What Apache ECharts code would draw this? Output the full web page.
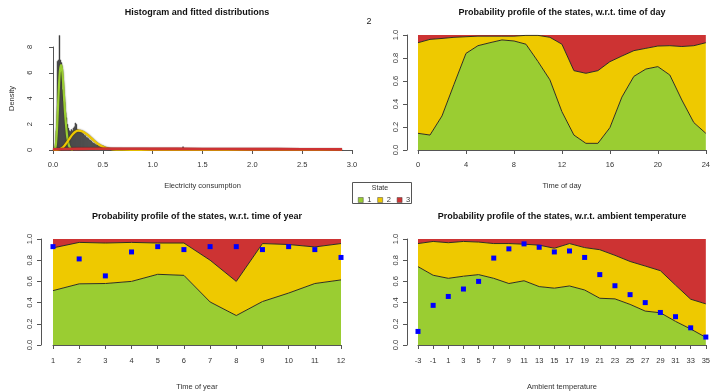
<!DOCTYPE html>
<html>
<head>
<meta charset="utf-8">
<script src="https://cdn.jsdelivr.net/npm/echarts@6/dist/echarts.min.js"></script>
<style>
  html, body { margin: 0; padding: 0; background: #ffffff; }
  #chart { width: 713px; height: 392px; }
</style>
</head>
<body>
<div id="chart"></div>
<script>
// ---- Histogram of electricity consumption (density, bin width 0.01 from 0) ----
const binWidth = 0.01;
const histHeights = [
  0, 0, 0.3, 1.5, 6.9, 7.0, 8.9, 7.0, 6.8, 4.7,
  3.8, 3.7, 2.9, 2.5, 2.0, 1.7, 1.5, 1.45, 1.6, 1.5,
  1.7, 1.8, 2.1, 2.0, 1.6, 1.55, 1.5, 1.45, 1.4, 1.3,
  1.25, 1.15, 1.1, 1.0, 0.95, 0.9, 0.8, 0.75, 0.7, 0.6,
  0.55, 0.5, 0.45, 0.4, 0.38, 0.33, 0.3, 0.28, 0.25, 0.3,
  0.32, 0.25, 0.2, 0.18, 0.15, 0.13, 0.12, 0.11, 0.1, 0.1,
  0.09, 0.09, 0.08, 0.08, 0.08, 0.07, 0.07, 0.07, 0.06, 0.06
];
// isolated bins further out in the tail: [bin start, density]
const histTailBins = [[1.30, 0.25]];

// ---- Fitted component densities (sampled along x) ----
const fit1X = [0.02, 0.03, 0.04, 0.05, 0.06, 0.07, 0.08, 0.09, 0.10, 0.11, 0.12, 0.13, 0.14, 0.15, 0.16, 0.18, 0.20];
const fit1Y = [0, 0.5, 1.6, 3.3, 5.0, 6.2, 6.6, 6.3, 5.4, 4.2, 3.0, 2.0, 1.2, 0.7, 0.35, 0.08, 0];
const fit2X = [0, 0.05, 0.10, 0.15, 0.20, 0.25, 0.30, 0.35, 0.40, 0.45, 0.50, 0.55, 0.60, 0.70, 0.80, 1.0, 2.9];
const fit2Y = [0, 0.02, 0.2, 0.7, 1.25, 1.5, 1.42, 1.15, 0.8, 0.48, 0.25, 0.12, 0.05, 0.02, 0.01, 0, 0];
const fit3X = [0, 0.25, 0.5, 0.75, 1.0, 1.5, 2.0, 2.5, 2.9];
const fit3Y = [0.06, 0.09, 0.1, 0.1, 0.09, 0.08, 0.07, 0.06, 0.05];

// ---- Time of day: cumulative probability of state 1 and states 1+2 ----
const hours = ['0','1','2','3','4','5','6','7','8','9','10','11','12','13','14','15','16','17','18','19','20','21','22','23','24'];
const dayCum1 = [0.145, 0.13, 0.296, 0.57, 0.84, 0.907, 0.933, 0.957, 0.948, 0.92, 0.77, 0.61, 0.333, 0.13, 0.058, 0.058, 0.194, 0.46, 0.64, 0.704, 0.725, 0.652, 0.435, 0.238, 0.145];
const dayCum2 = [0.933, 0.962, 0.97, 0.98, 0.985, 0.99, 0.99, 0.99, 0.99, 0.997, 0.997, 0.98, 0.92, 0.69, 0.667, 0.69, 0.768, 0.817, 0.864, 0.884, 0.904, 0.907, 0.90, 0.907, 0.933];

// ---- Time of year ----
const months = ['1','2','3','4','5','6','7','8','9','10','11','12'];
const yearCum1 = [0.513, 0.577, 0.58, 0.60, 0.667, 0.657, 0.406, 0.278, 0.41, 0.49, 0.58, 0.614];
const yearCum2 = [0.916, 0.968, 0.962, 0.968, 0.962, 0.962, 0.80, 0.60, 0.957, 0.948, 0.925, 0.957];
const yearObs  = [0.928, 0.812, 0.652, 0.878, 0.928, 0.90, 0.928, 0.928, 0.90, 0.928, 0.90, 0.826];

// ---- Ambient temperature ----
const temps = ['-3','-1','1','3','5','7','9','11','13','15','17','19','21','23','25','27','29','31','33','35'];
const tempCum1 = [0.739, 0.658, 0.629, 0.649, 0.664, 0.629, 0.58, 0.606, 0.551, 0.536, 0.557, 0.519, 0.441, 0.435, 0.383, 0.32, 0.304, 0.223, 0.151, 0.072];
const tempCum2 = [0.957, 0.977, 0.965, 0.977, 0.971, 0.957, 0.957, 0.951, 0.942, 0.913, 0.957, 0.919, 0.899, 0.846, 0.788, 0.745, 0.701, 0.565, 0.432, 0.388];
const tempObs  = [0.128, 0.374, 0.458, 0.528, 0.60, 0.82, 0.907, 0.954, 0.922, 0.878, 0.887, 0.826, 0.664, 0.559, 0.475, 0.40, 0.307, 0.267, 0.162, 0.075];

const stateNames = ['1', '2', '3'];

// ---- styling ----
const FONT = 'Liberation Sans, Arial, Helvetica, sans-serif';
const GREEN = '#9ACD32';
const YELLOW = '#EEC900';
const RED = '#CD3333';
const BLUE = '#0000FF';
const AXIS_COLOR = '#555555';
const LABEL_COLOR = '#333333';
const EDGE = '#2f2f1f';

const chart = echarts.init(document.getElementById('chart'), null, { renderer: 'canvas' });

const zip = (xs, ys) => xs.map((x, i) => [x, ys[i]]);

function xAxisStyle(extra) {
  return Object.assign({
    axisLine: { show: true, lineStyle: { color: AXIS_COLOR, width: 1 } },
    axisTick: { show: true, length: 4, lineStyle: { color: AXIS_COLOR } },
    axisLabel: { fontSize: 7.5, color: LABEL_COLOR, fontFamily: FONT, margin: 7 },
    splitLine: { show: false },
    nameLocation: 'middle',
    nameTextStyle: { fontSize: 7.5, color: LABEL_COLOR, fontFamily: FONT }
  }, extra);
}

function yAxisStyle(extra) {
  return Object.assign({
    type: 'value',
    axisLine: { show: true, lineStyle: { color: AXIS_COLOR, width: 1 } },
    axisTick: { show: true, length: 4, lineStyle: { color: AXIS_COLOR } },
    axisLabel: { fontSize: 7.5, color: LABEL_COLOR, fontFamily: FONT, rotate: 90, margin: 7 },
    splitLine: { show: false }
  }, extra);
}

const probLabel = { formatter: v => v.toFixed(1) };

// three stacked bands (state 1, 2, 3) from the cumulative boundaries
function stateBands(axisIdx, cum1, cum2) {
  const p1 = cum1;
  const p2 = cum2.map((v, i) => v - cum1[i]);
  const p3 = cum2.map(v => 1 - v);
  const colors = [GREEN, YELLOW, RED];
  return [p1, p2, p3].map((vals, k) => ({
    type: 'line',
    name: stateNames[k],
    xAxisIndex: axisIdx,
    yAxisIndex: axisIdx,
    stack: 'states' + axisIdx,
    data: vals,
    symbol: 'none',
    color: colors[k],
    lineStyle: k < 2 ? { color: EDGE, width: 1 } : { width: 0 },
    areaStyle: { color: colors[k], opacity: 1 },
    z: 2
  }));
}

const histData = histHeights.map((h, i) => [i * binWidth, h]).concat(histTailBins);

const option = {
  animation: false,
  backgroundColor: '#ffffff',
  textStyle: { fontFamily: FONT },
  title: [
    { text: 'Histogram and fitted distributions', left: 197, top: 8 },
    { text: 'Probability profile of the states, w.r.t. time of day', left: 562, top: 8 },
    { text: 'Probability profile of the states, w.r.t. time of year', left: 197, top: 212 },
    { text: 'Probability profile of the states, w.r.t. ambient temperature', left: 562, top: 212 }
  ].map(t => Object.assign(t, {
    textAlign: 'center',
    padding: 0,
    textStyle: { fontSize: 9, fontWeight: 'bold', color: '#111111', fontFamily: FONT }
  })),
  grid: [
    { left: 53, top: 47, width: 299, height: 103 },
    { left: 418, top: 35, width: 288, height: 115 },
    { left: 53, top: 239, width: 288, height: 115 },
    { left: 418, top: 239, width: 288, height: 115 }
  ],
  xAxis: [
    xAxisStyle({
      type: 'value', gridIndex: 0, min: 0, max: 3, interval: 0.5, offset: 4,
      axisLabel: { fontSize: 7.5, color: LABEL_COLOR, fontFamily: FONT, margin: 7, formatter: v => v.toFixed(1) },
      name: 'Electricity consumption', nameGap: 28
    }),
    xAxisStyle({
      type: 'category', gridIndex: 1, data: hours, boundaryGap: false, offset: 4,
      axisTick: { show: true, length: 4, interval: 3, lineStyle: { color: AXIS_COLOR } },
      axisLabel: { fontSize: 7.5, color: LABEL_COLOR, fontFamily: FONT, margin: 7, interval: 3 },
      name: 'Time of day', nameGap: 28
    }),
    xAxisStyle({
      type: 'category', gridIndex: 2, data: months, boundaryGap: false, offset: 5,
      name: 'Time of year', nameGap: 33
    }),
    xAxisStyle({
      type: 'category', gridIndex: 3, data: temps, boundaryGap: false, offset: 5,
      axisLabel: { fontSize: 7.5, color: LABEL_COLOR, fontFamily: FONT, margin: 7, interval: 0 },
      name: 'Ambient temperature', nameGap: 33
    })
  ],
  yAxis: [
    yAxisStyle({
      gridIndex: 0, min: 0, max: 8, interval: 2, offset: 12,
      name: 'Density', nameLocation: 'middle', nameGap: 25, nameRotate: 90,
      nameTextStyle: { fontSize: 7.5, color: LABEL_COLOR, fontFamily: FONT }
    }),
    yAxisStyle({ gridIndex: 1, min: 0, max: 1, interval: 0.2, offset: 11,
      axisLabel: Object.assign({ fontSize: 7.5, color: LABEL_COLOR, fontFamily: FONT, rotate: 90, margin: 7 }, probLabel) }),
    yAxisStyle({ gridIndex: 2, min: 0, max: 1, interval: 0.2, offset: 12,
      axisLabel: Object.assign({ fontSize: 7.5, color: LABEL_COLOR, fontFamily: FONT, rotate: 90, margin: 7 }, probLabel) }),
    yAxisStyle({ gridIndex: 3, min: 0, max: 1, interval: 0.2, offset: 11,
      axisLabel: Object.assign({ fontSize: 7.5, color: LABEL_COLOR, fontFamily: FONT, rotate: 90, margin: 7 }, probLabel) })
  ],
  legend: {
    data: stateNames.map((n, k) => ({ name: n, itemStyle: { color: [GREEN, YELLOW, RED][k], borderColor: '#444', borderWidth: 0.5 } })),
    icon: 'rect',
    left: 358,
    top: 196,
    itemWidth: 5,
    itemHeight: 5,
    itemGap: 6,
    padding: 0,
    selectedMode: false,
    textStyle: { fontSize: 7.5, color: LABEL_COLOR, fontFamily: FONT, padding: [0, 0, 0, -1] }
  },
  graphic: [
    {
      type: 'rect', z: 10,
      shape: { x: 352.5, y: 182.5, width: 59, height: 21 },
      style: { fill: 'none', stroke: '#555555', lineWidth: 1 }
    },
    {
      type: 'text', z: 10, x: 380, y: 188,
      style: { text: 'State', fontSize: 7, fill: LABEL_COLOR, fontFamily: FONT, align: 'center', verticalAlign: 'middle' }
    },
    {
      type: 'text', z: 10, x: 369, y: 22,
      style: { text: '2', fontSize: 9, fill: '#222222', fontFamily: FONT, align: 'center', verticalAlign: 'middle' }
    }
  ],
  series: [
    {
      type: 'custom',
      name: 'histogram',
      xAxisIndex: 0,
      yAxisIndex: 0,
      clip: false,
      data: histData,
      z: 2,
      renderItem: function (params, api) {
        const x0 = api.value(0);
        const h = api.value(1);
        if (h <= 0) return null;
        const p0 = api.coord([x0, 0]);
        const p1 = api.coord([x0 + binWidth, h]);
        return {
          type: 'rect',
          shape: { x: p0[0], y: p1[1], width: p1[0] - p0[0], height: p0[1] - p1[1] },
          style: { fill: '#1a1a1a', stroke: '#6a6a6a', lineWidth: 0.5 }
        };
      }
    },
    {
      type: 'line', name: 'fit 1', xAxisIndex: 0, yAxisIndex: 0,
      data: zip(fit1X, fit1Y), symbol: 'none', smooth: 0.3, z: 4,
      lineStyle: { color: GREEN, width: 2.2, shadowColor: 'rgba(40,50,0,0.8)', shadowBlur: 1.5 }
    },
    {
      type: 'line', name: 'fit 2', xAxisIndex: 0, yAxisIndex: 0,
      data: zip(fit2X, fit2Y), symbol: 'none', smooth: 0.3, z: 5,
      lineStyle: { color: YELLOW, width: 2.2, shadowColor: 'rgba(60,40,0,0.8)', shadowBlur: 1.5 }
    },
    {
      type: 'line', name: 'fit 3', xAxisIndex: 0, yAxisIndex: 0,
      data: zip(fit3X, fit3Y), symbol: 'none', smooth: 0.3, z: 6,
      lineStyle: { color: RED, width: 2.6, shadowColor: 'rgba(60,0,0,0.6)', shadowBlur: 1 }
    },
    ...stateBands(1, dayCum1, dayCum2),
    ...stateBands(2, yearCum1, yearCum2),
    ...stateBands(3, tempCum1, tempCum2),
    {
      type: 'scatter', name: 'observed (year)', xAxisIndex: 2, yAxisIndex: 2,
      data: yearObs, symbol: 'rect', symbolSize: 5, z: 8,
      itemStyle: { color: BLUE, opacity: 1 }
    },
    {
      type: 'scatter', name: 'observed (temperature)', xAxisIndex: 3, yAxisIndex: 3,
      data: tempObs, symbol: 'rect', symbolSize: 5, z: 8,
      itemStyle: { color: BLUE, opacity: 1 }
    }
  ]
};

chart.setOption(option);
</script>
</body>
</html>
